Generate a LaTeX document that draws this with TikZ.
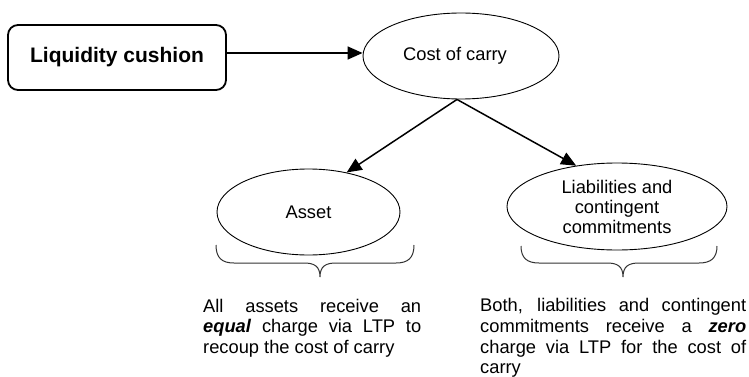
\documentclass[tikz,border=0pt]{standalone}
\usepackage{fontspec}
\setmainfont{Liberation Sans}
\usetikzlibrary{shapes.geometric,arrows.meta}
\tolerance=10000
\hbadness=10000
\hyphenpenalty=10000
\begin{document}
\begin{tikzpicture}[x=1pt,y=-1pt,
  every node/.style={inner sep=0pt,font=\fontsize{18.3}{20}\selectfont},
  titlebox/.style={draw,line width=1.8pt,rounded corners=10pt,minimum width=218pt,minimum height=65pt,font=\bfseries\fontsize{21}{25}\selectfont},
  oval/.style={draw,ellipse,line width=0.9pt},
  link/.style={line width=1.5pt,-{Triangle[length=15pt,width=13pt]}},
  bracepath/.style={draw,black!80,line width=1pt},
  note/.style={anchor=north west,align=justify,font=\fontsize{18.3}{20.7}\selectfont}
]
\useasboundingbox (0,0) rectangle (749,377);

\node[titlebox] (lc) at (117,57.5) {Liquidity cushion};
\node[oval,minimum width=196pt,minimum height=86pt] (cost) at (461,56) {\raisebox{-4pt}{Cost of carry}\hspace*{12pt}};
\node[oval,minimum width=183pt,minimum height=86pt] (asset) at (308.5,212) {Asset};
\node[oval,minimum width=220pt,minimum height=87pt,align=center] (liab) at (617,206.5) {Liabilities and\\contingent\\commitments};

\coordinate (a1) at ([yshift=4.5pt]lc.east);
\coordinate (top) at ([xshift=-4pt]cost.south);
\draw[link] (a1) -- (a1 -| cost.west);
\draw[link] (top) -- (asset.46);
\draw[link] (top) -- (liab.135);

% braces
\draw[bracepath] (216,245) .. controls (216,258) and (222,263) .. (234,263) -- (304,263)
  .. controls (314,263) and (320,266) .. (320,277)
  .. controls (320,266) and (326,263) .. (336,263) -- (396,263)
  .. controls (408,263) and (414,258) .. (414,245);
\draw[bracepath] (521,246) .. controls (521,258) and (527,263) .. (539,263) -- (607,263)
  .. controls (617,263) and (623,266) .. (623,277)
  .. controls (623,266) and (629,263) .. (639,263) -- (699,263)
  .. controls (711,263) and (717,258) .. (717,246);

\node[note,text width=218pt] (t1) at (203,298.8) {All assets receive an\linebreak \textbf{\textit{equal}} charge via LTP to\linebreak recoup the cost of carry};
\node[note,text width=266pt] (t2) at (480,298.3) {Both, liabilities and contingent\linebreak commitments receive a \textbf{\textit{zero}}\linebreak charge via LTP for the cost of\linebreak carry};
\end{tikzpicture}
\end{document}
